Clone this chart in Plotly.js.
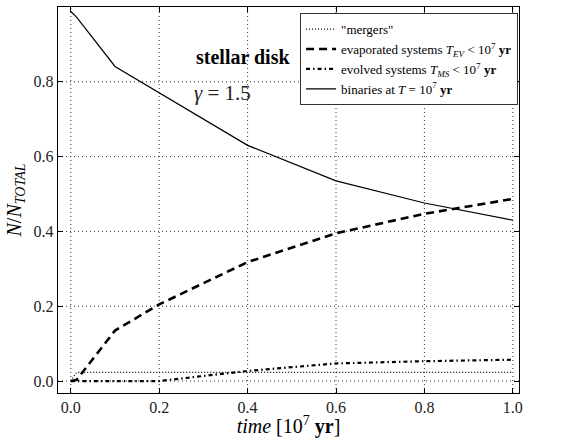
<!DOCTYPE html>
<html>
<head>
<meta charset="utf-8">
<script src="https://cdn.plot.ly/plotly-3.0.1.min.js"></script>
<style>html,body{margin:0;padding:0;background:#fff;}#chart{width:566px;height:438px;}</style>
</head>
<body>
<div id="chart"></div>
<script>
// Data
const time = [0.0, 0.013, 0.1, 0.2, 0.4, 0.6, 0.8, 1.0];
const mergers = [0.0, 0.023, 0.023, 0.023, 0.023, 0.023, 0.023, 0.023];
const evaporated = [0.0, 0.003, 0.135, 0.205, 0.318, 0.395, 0.447, 0.487];
const evolved = [0.0, 0.0, 0.0, 0.0, 0.027, 0.047, 0.053, 0.057];
const binaries = [0.988, 0.973, 0.841, 0.77, 0.63, 0.535, 0.476, 0.43];
const xTicks = [0.0, 0.2, 0.4, 0.6, 0.8, 1.0];
const yTicks = [0.0, 0.2, 0.4, 0.6, 0.8];
const seriesNames = [
  '"mergers"',
  'evaporated systems <i>T</i><sub><i>EV</i></sub> < 10<sup>7</sup> <b>yr</b>',
  'evolved systems <i>T</i><sub><i>MS</i></sub> < 10<sup>7</sup> <b>yr</b>',
  'binaries at <i>T</i> = 10<sup>7</sup> <b>yr</b>'
];

const serif = 'Liberation Serif, serif';

const traces = [
  {x: time, y: mergers, name: seriesNames[0], mode: 'lines',
   line: {color: 'black', width: 1.2, dash: '1px,2px'}},
  {x: time, y: evaporated, name: seriesNames[1], mode: 'lines',
   line: {color: 'black', width: 2.6, dash: '8px,5px'}},
  {x: time, y: evolved, name: seriesNames[2], mode: 'lines',
   line: {color: 'black', width: 2.2, dash: '4px,3px,1.5px,3px'}},
  {x: time, y: binaries, name: seriesNames[3], mode: 'lines',
   line: {color: 'black', width: 1.2}}
];

function axisBase() {
  return {
    showline: true, mirror: 'allticks', linecolor: 'black', linewidth: 1.2,
    ticks: 'inside', ticklen: 5, tickcolor: 'black', tickwidth: 1,
    showgrid: false, zeroline: false,
    tickfont: {family: serif, size: 16, color: '#222'},
    tickformat: '.1f'
  };
}

// dotted grid lines at the tick positions
const gridShapes = [];
xTicks.forEach(v => gridShapes.push({type: 'line', xref: 'x', yref: 'paper', x0: v, x1: v, y0: 0, y1: 1,
  layer: 'below', line: {color: '#333', width: 1, dash: '1px,3px'}}));
yTicks.forEach(v => gridShapes.push({type: 'line', xref: 'paper', yref: 'y', x0: 0, x1: 1, y0: v, y1: v,
  layer: 'below', line: {color: '#333', width: 1, dash: '1px,3px'}}));

const layout = {
  width: 566, height: 438,
  font: {family: serif, color: '#222'},
  margin: {l: 58, r: 47, t: 7, b: 45},
  paper_bgcolor: 'white', plot_bgcolor: 'white',
  showlegend: true,
  xaxis: Object.assign(axisBase(), {
    range: [-0.029, 1.014], tickvals: xTicks,
    title: {text: '<i>time</i> [10<sup>7</sup> <b>yr</b>]', font: {family: serif, size: 20, color: 'black'}, standoff: 4}
  }),
  yaxis: Object.assign(axisBase(), {
    range: [-0.032, 1.0], tickvals: yTicks,
    title: {text: '<i>N</i>/<i>N</i><sub><i>TOTAL</i></sub>', font: {family: serif, size: 20, color: 'black'}, standoff: 6}
  }),
  legend: {
    x: 0.998, xanchor: 'right', y: 0.984, yanchor: 'top',
    bgcolor: 'white', bordercolor: '#333', borderwidth: 1,
    font: {family: serif, size: 13, color: 'black'},
    tracegroupgap: 0, itemwidth: 30
  },
  shapes: gridShapes,
  annotations: [
    {xref: 'paper', yref: 'paper', x: 0.401, y: 0.87, xanchor: 'center', yanchor: 'middle',
     text: '<b>stellar disk</b>', showarrow: false, font: {family: serif, size: 20, color: 'black'}},
    {xref: 'paper', yref: 'paper', x: 0.29, y: 0.777, xanchor: 'left', yanchor: 'middle',
     text: '<i>γ</i>&nbsp;=&nbsp;1.5', showarrow: false, font: {family: serif, size: 21, color: '#222'}}
  ]
};

Plotly.newPlot('chart', traces, layout, {staticPlot: true, displayModeBar: false});
</script>
</body>
</html>
